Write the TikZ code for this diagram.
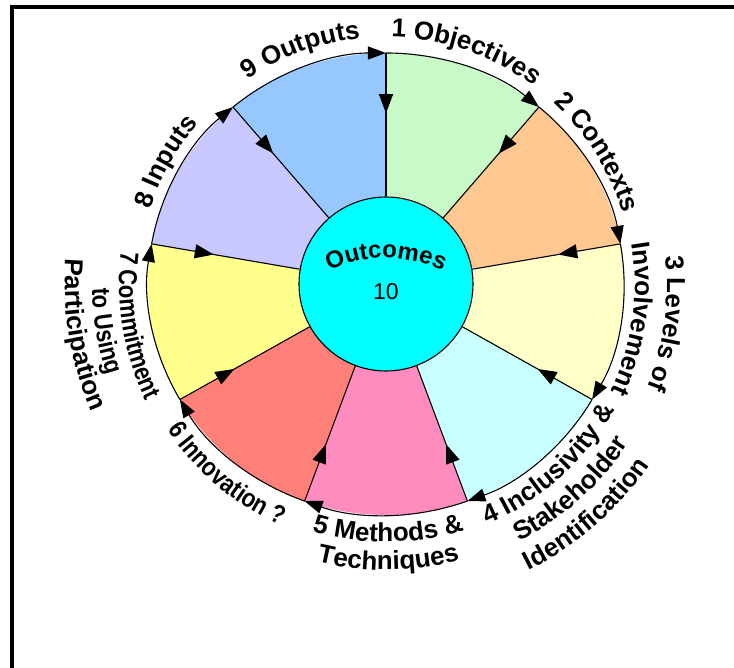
\documentclass[tikz,border=0pt]{standalone}
\usepackage{fontspec}
\setmainfont{Liberation Sans}
\newfontfamily\narrowsans[FakeStretch=0.85]{Liberation Sans}
\usetikzlibrary{arrows.meta,decorations.markings,decorations.text}

\definecolor{objgreen}{RGB}{200,250,200}
\definecolor{ctxpeach}{RGB}{255,200,145}
\definecolor{lvlcream}{RGB}{255,255,200}
\definecolor{incaqua}{RGB}{200,255,255}
\definecolor{methpink}{RGB}{255,140,190}
\definecolor{innsalmon}{RGB}{255,128,120}
\definecolor{comyellow}{RGB}{255,255,140}
\definecolor{inplilac}{RGB}{200,200,255}
\definecolor{outblue}{RGB}{150,200,255}
\definecolor{hubcyan}{RGB}{0,255,255}

\def\rx{238}
\def\ry{231}
\def\lbl{\fontsize{26}{30}\selectfont\bfseries}
\def\lbln{\narrowsans\fontsize{26}{30}\selectfont\bfseries}

\tikzset{
	rim/.style={line width=1.1pt, -{Triangle[length=18pt,width=13pt]}},
	spoke/.style={line width=1.1pt, postaction={decorate},
		decoration={markings, mark=at position 0.42 with {\arrow{Triangle[length=19pt,width=14pt]}}}},
	frame/.style={line width=3.5pt},
	hub/.style={circle, draw, line width=1.1pt, fill=hubcyan, minimum size=174pt, inner sep=0pt},
	curvelabel/.style={decorate, decoration={text along path, text align=center, text={#1}}}
}

\begin{document}
\begin{tikzpicture}[x=1pt, y=1pt]
			%%%%% START %%%%%
			\useasboundingbox (-386,-384) rectangle (348,284);
			
			\draw[frame] (348,277) -- (-374,277) -- (-374,-384);
			
			\coordinate (o1) at ({\rx*cos(90)},{\ry*sin(90)});
			\coordinate (o2) at ({\rx*cos(50)},{\ry*sin(50)});
			\coordinate (o3) at ({\rx*cos(10)},{\ry*sin(10)});
			\coordinate (o4) at ({\rx*cos(-30)},{\ry*sin(-30)});
			\coordinate (o5) at ({\rx*cos(-70)},{\ry*sin(-70)});
			\coordinate (o6) at ({\rx*cos(-110)},{\ry*sin(-110)});
			\coordinate (o7) at ({\rx*cos(-150)},{\ry*sin(-150)});
			\coordinate (o8) at ({\rx*cos(-190)},{\ry*sin(-190)});
			\coordinate (o9) at ({\rx*cos(-230)},{\ry*sin(-230)});
			
			\fill[objgreen] (0,0) -- (o1) arc[start angle=90, end angle=50, x radius=\rx, y radius=\ry] -- cycle;
			\fill[ctxpeach] (0,0) -- (o2) arc[start angle=50, end angle=10, x radius=\rx, y radius=\ry] -- cycle;
			\fill[lvlcream] (0,0) -- (o3) arc[start angle=10, end angle=-30, x radius=\rx, y radius=\ry] -- cycle;
			\fill[incaqua] (0,0) -- (o4) arc[start angle=-30, end angle=-70, x radius=\rx, y radius=\ry] -- cycle;
			\fill[methpink] (0,0) -- (o5) arc[start angle=-70, end angle=-110, x radius=\rx, y radius=\ry] -- cycle;
			\fill[innsalmon] (0,0) -- (o6) arc[start angle=-110, end angle=-150, x radius=\rx, y radius=\ry] -- cycle;
			\fill[comyellow] (0,0) -- (o7) arc[start angle=-150, end angle=-190, x radius=\rx, y radius=\ry] -- cycle;
			\fill[inplilac] (0,0) -- (o8) arc[start angle=-190, end angle=-230, x radius=\rx, y radius=\ry] -- cycle;
			\fill[outblue] (0,0) -- (o9) arc[start angle=-230, end angle=-270, x radius=\rx, y radius=\ry] -- cycle;
			
			\node[hub] (hub) at (0,0) {};
			\node[font=\fontsize{23}{26}\selectfont] (ten) at (0,-8) {10};
			\path[curvelabel={|\fontsize{24}{28}\selectfont\bfseries|Outcomes}] (-91.92,-12.08) arc[start angle=135, end angle=45, radius=130];
			
			\draw[spoke] (o1) -- (hub);
			\draw[spoke] (o2) -- (hub);
			\draw[spoke] (o3) -- (hub);
			\draw[spoke] (o4) -- (hub);
			\draw[spoke] (o5) -- (hub);
			\draw[spoke] (o6) -- (hub);
			\draw[spoke] (o7) -- (hub);
			\draw[spoke] (o8) -- (hub);
			\draw[spoke] (o9) -- (hub);
			
			\draw[rim] (o1) arc[start angle=90, end angle=50, x radius=\rx, y radius=\ry];
			\draw[rim] (o2) arc[start angle=50, end angle=10, x radius=\rx, y radius=\ry];
			\draw[rim] (o3) arc[start angle=10, end angle=-30, x radius=\rx, y radius=\ry];
			\draw[rim] (o4) arc[start angle=-30, end angle=-70, x radius=\rx, y radius=\ry];
			\draw[rim] (o5) arc[start angle=-70, end angle=-110, x radius=\rx, y radius=\ry];
			\draw[rim] (o6) arc[start angle=-110, end angle=-150, x radius=\rx, y radius=\ry];
			\draw[rim] (o7) arc[start angle=-150, end angle=-190, x radius=\rx, y radius=\ry];
			\draw[rim] (o8) arc[start angle=-190, end angle=-230, x radius=\rx, y radius=\ry];
			\draw[rim] (o9) arc[start angle=-230, end angle=-270, x radius=\rx, y radius=\ry];
			
			% labels round the rim
			\path[curvelabel={|\lbl|1 Objectives}] (116:247) arc[start angle=116, end angle=26, radius=247];
			\path[curvelabel={|\lbl|2 Contexts}] (77:247) arc[start angle=77, end angle=-13, radius=247];
			\path[curvelabel={|\lbl|3 Levels of}] (37:281) arc[start angle=37, end angle=-53, radius=281];
			\path[curvelabel={|\lbl|Involvement}] (37:249) arc[start angle=37, end angle=-53, radius=249];
			\path[curvelabel={|\lbl|4 Inclusivity {\&}}] (-93:261) arc[start angle=-93, end angle=-3, radius=261];
			\path[curvelabel={|\lbl|Stakeholder}] (-93:290) arc[start angle=-93, end angle=-3, radius=290];
			\path[curvelabel={|\lbl|Identification}] (-94:320) arc[start angle=-94, end angle=-4, radius=320];
			\path[curvelabel={|\lbl|5 Methods {\&}}] (225.5:258) arc[start angle=225.5, end angle=315.5, radius=258];
			\path[curvelabel={|\lbl|Techniques}] (225.5:286) arc[start angle=225.5, end angle=315.5, radius=286];
			\path[curvelabel={|\lbln|6 Innovation ?}] (185:263) arc[start angle=185, end angle=275, radius=263];
			\path[curvelabel={|\lbln|7 Commitment}] (144.5:267) arc[start angle=144.5, end angle=234.5, radius=267];
			\path[curvelabel={|\lbln|to Using}] (144.5:294) arc[start angle=144.5, end angle=234.5, radius=294];
			\path[curvelabel={|\lbl|Participation}] (144.5:321) arc[start angle=144.5, end angle=234.5, radius=321];
			\path[curvelabel={|\lbl|8 Inputs}] (196:247) arc[start angle=196, end angle=106, radius=247];
			\path[curvelabel={|\lbl|9 Outputs}] (155:247) arc[start angle=155, end angle=65, radius=247];
			
			%%%%% END %%%%%
\end{tikzpicture}
\end{document}
